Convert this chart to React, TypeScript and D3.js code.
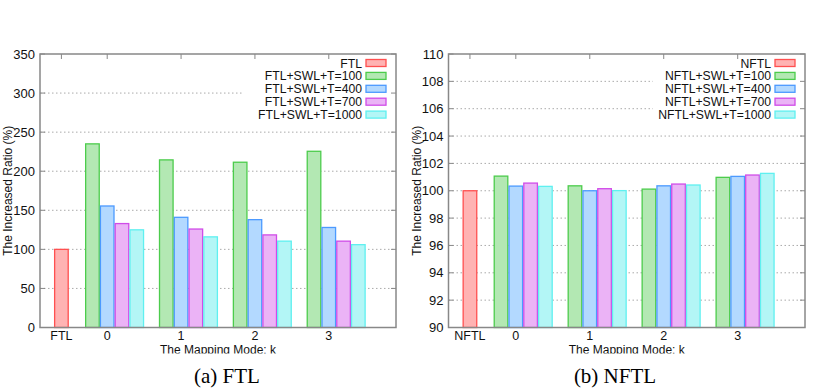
import React, { useRef, useEffect } from 'react';
import * as d3 from 'd3';

// categories on the x axis (first one is the baseline scheme)
const modes = ['0', '1', '2', '3'];

const ftlSeries = ['FTL', 'FTL+SWL+T=100', 'FTL+SWL+T=400', 'FTL+SWL+T=700', 'FTL+SWL+T=1000'];
const nftlSeries = ['NFTL', 'NFTL+SWL+T=100', 'NFTL+SWL+T=400', 'NFTL+SWL+T=700', 'NFTL+SWL+T=1000'];

// baseline values
const ftlBase = 100;
const nftlBase = 100;

// values per mode k = 0..3, for T = 100, 400, 700, 1000
const ftlT100 = [235, 214.5, 211.5, 225.5];
const ftlT400 = [155.5, 141, 138, 128];
const ftlT700 = [133, 126, 118.5, 110.5];
const ftlT1000 = [125, 116, 110.5, 106];

const nftlT100 = [101.07, 100.36, 100.12, 100.98];
const nftlT400 = [100.34, 100.0, 100.36, 101.05];
const nftlT700 = [100.56, 100.15, 100.49, 101.15];
const nftlT1000 = [100.32, 100.01, 100.42, 101.27];

const ftlTicks = [0, 50, 100, 150, 200, 250, 300, 350];
const nftlTicks = [90, 92, 94, 96, 98, 100, 102, 104, 106, 108, 110];

const fills = ['#ffb3b3', '#b3e8b3', '#b3d9ff', '#ebb3f6', '#b3f6f6'];
const strokes = ['#ff5050', '#4ccc4c', '#4c9aff', '#d04ce8', '#5ff0f0'];

interface PanelProps {
  left: number;
  right: number;
  baseLabel: string;
  series: string[];
  base: number;
  groups: number[][];
  yDomain: [number, number];
  yTicks: number[];
  caption: string;
  captionX: number;
  legendTextX: number;
}

const Panel: React.FC<PanelProps> = (p) => {
  const gRef = useRef<SVGGElement>(null);

  useEffect(() => {
    if (!gRef.current) return;
    const g = d3.select(gRef.current);
    g.selectAll('*').remove();

    const top = 54;
    const bottom = 327.5;
    const x = d3.scaleLinear().domain([-0.91, 3.91]).range([p.left, p.right]);
    const y = d3.scaleLinear().domain(p.yDomain).range([bottom, top]);
    const slot = 0.2;
    const basePos = -0.62;
    const font = 'Liberation Sans, Arial, sans-serif';

    // grid
    g.selectAll('.grid')
      .data(p.yTicks.slice(1, -1))
      .enter().append('line')
      .attr('x1', p.left).attr('x2', p.right)
      .attr('y1', d => y(d)).attr('y2', d => y(d))
      .attr('stroke', '#aaa')
      .attr('stroke-width', 1)
      .attr('stroke-dasharray', '1.5,2.5');

    // key area blanks the grid
    g.append('rect')
      .attr('x', p.right - 152).attr('y', 56)
      .attr('width', 150).attr('height', 64)
      .attr('fill', '#fff');

    const bar = (pos: number, v: number, i: number) => {
      const w = x(slot) - x(0);
      g.append('rect')
        .attr('x', x(pos) - w / 2 + 0.6)
        .attr('width', w - 1.2)
        .attr('y', y(v))
        .attr('height', y(p.yDomain[0]) - y(v))
        .attr('fill', fills[i])
        .attr('stroke', strokes[i])
        .attr('stroke-width', 1.3);
    };

    bar(basePos, p.base, 0);
    modes.forEach((_, k) => {
      p.groups.forEach((vals, s) => {
        bar(k + (s - 1) * slot, vals[k], s + 1);
      });
    });

    // frame
    g.append('rect')
      .attr('x', p.left).attr('y', top)
      .attr('width', p.right - p.left).attr('height', bottom - top)
      .attr('fill', 'none')
      .attr('stroke', '#888')
      .attr('stroke-width', 1.5);

    // y ticks and labels
    p.yTicks.forEach(t => {
      g.append('line').attr('x1', p.left).attr('x2', p.left + 5)
        .attr('y1', y(t)).attr('y2', y(t)).attr('stroke', '#888');
      g.append('line').attr('x1', p.right).attr('x2', p.right - 5)
        .attr('y1', y(t)).attr('y2', y(t)).attr('stroke', '#888');
      g.append('text')
        .attr('x', p.left - 5).attr('y', y(t) + 4.5)
        .attr('text-anchor', 'end')
        .attr('font-family', font).attr('font-size', 13)
        .attr('fill', '#111')
        .text(String(t));
    });

    // x ticks and labels
    const xCats = [{ pos: basePos, label: p.baseLabel }, ...modes.map((m, k) => ({ pos: k, label: m }))];
    xCats.forEach(c => {
      g.append('line').attr('x1', x(c.pos)).attr('x2', x(c.pos))
        .attr('y1', top).attr('y2', top + 5).attr('stroke', '#888');
      g.append('text')
        .attr('x', x(c.pos)).attr('y', 339.5)
        .attr('text-anchor', 'middle')
        .attr('font-family', font).attr('font-size', 12.5)
        .attr('fill', '#111')
        .text(c.label);
    });

    // axis titles
    g.append('text')
      .attr('transform', `translate(${p.left - 28},${(top + bottom) / 2}) rotate(-90)`)
      .attr('text-anchor', 'middle')
      .attr('font-family', font).attr('font-size', 12)
      .attr('fill', '#111')
      .text('The Increased Ratio (%)');

    const clipId = `clip-${p.left}`;
    g.append('clipPath').attr('id', clipId)
      .append('rect').attr('x', p.left).attr('y', 342).attr('width', p.right - p.left).attr('height', 11.5);
    g.append('text')
      .attr('x', (p.left + p.right) / 2).attr('y', 353.5)
      .attr('text-anchor', 'middle')
      .attr('font-family', font).attr('font-size', 12)
      .attr('fill', '#111')
      .attr('clip-path', `url(#${clipId})`)
      .text('The Mapping Mode: k');

    // legend
    p.series.forEach((name, i) => {
      const ly = 63 + i * 12.9;
      g.append('text')
        .attr('x', p.legendTextX).attr('y', ly + 4.5)
        .attr('text-anchor', 'end')
        .attr('font-family', font).attr('font-size', 12.2)
        .attr('fill', '#111')
        .text(name);
      g.append('rect')
        .attr('x', p.legendTextX + 4).attr('y', ly - 3.5)
        .attr('width', 20).attr('height', 7)
        .attr('fill', fills[i]).attr('stroke', strokes[i]).attr('stroke-width', 1.3);
    });

    // caption
    g.append('text')
      .attr('x', p.captionX).attr('y', 383)
      .attr('text-anchor', 'middle')
      .attr('font-family', 'Liberation Serif, Times New Roman, serif')
      .attr('font-size', 21)
      .attr('fill', '#000')
      .text(p.caption);
  }, [p]);

  return <g ref={gRef}></g>;
};

const App: React.FC = () => {
  return (
    <svg width={821} height={392} style={{ position: 'absolute', left: 0, top: 0, background: '#fff' }}>
      <Panel
        left={40} right={396}
        baseLabel="FTL" series={ftlSeries} base={ftlBase}
        groups={[ftlT100, ftlT400, ftlT700, ftlT1000]}
        yDomain={[0, 350]} yTicks={ftlTicks}
        caption="(a) FTL" captionX={227} legendTextX={362}
      />
      <Panel
        left={448.5} right={805}
        baseLabel="NFTL" series={nftlSeries} base={nftlBase}
        groups={[nftlT100, nftlT400, nftlT700, nftlT1000]}
        yDomain={[90, 110]} yTicks={nftlTicks}
        caption="(b) NFTL" captionX={615} legendTextX={771}
      />
    </svg>
  );
};

export default App;
